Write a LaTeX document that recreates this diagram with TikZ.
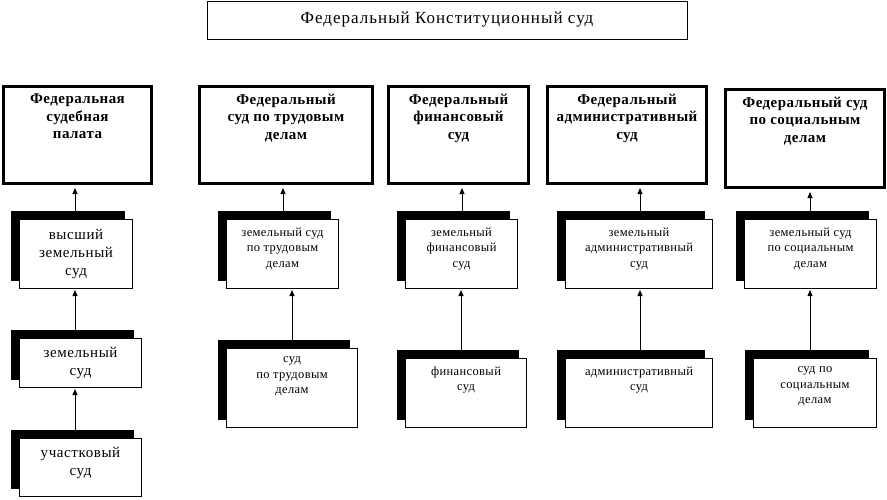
\documentclass[tikz,border=0pt]{standalone}
\usepackage{fontspec}
\setmainfont{Liberation Serif}
\newfontfamily\lsTitle[LetterSpace=6]{Liberation Serif}
\newfontfamily\lsFed[LetterSpace=3]{Liberation Serif}
\newfontfamily\lsBig[LetterSpace=4]{Liberation Serif}
\newfontfamily\lsSmall[LetterSpace=3]{Liberation Serif}
\usetikzlibrary{arrows.meta,calc}
\newcommand\mkbox[5]{%
  \node[shadowst, minimum width={#4-#2}, minimum height={#5-#3}] (s#1) at (#2-8,#3-8) {};
  \node[whitest, minimum width={#4-#2-0.8}, minimum height={#5-#3-0.8}] (w#1) at (#2,#3) {};
}
\begin{document}
\begin{tikzpicture}[x=1pt,y=-1pt,
  fed/.style={draw, line width=3pt, fill=white, inner sep=0pt, anchor=north west},
  titlebox/.style={draw, line width=0.8pt, inner sep=0pt, anchor=north west},
  shadowst/.style={fill=black, inner sep=0pt, outer sep=0pt, anchor=north west},
  whitest/.style={draw, fill=white, line width=0.8pt, inner sep=0pt, anchor=north west},
  fedtext/.style={inner sep=0pt, anchor=north, align=center, font=\lsFed\fontsize{15}{17.5}\selectfont\bfseries},
  bigtext/.style={inner sep=0pt, anchor=north, align=center, font=\lsBig\fontsize{15}{18}\selectfont},
  smalltext/.style={inner sep=0pt, anchor=north, align=center, font=\lsSmall\fontsize{12.5}{15.5}\selectfont},
  arr/.style={-{Triangle[length=6pt,width=5pt]}, line width=0.8pt}
]
\useasboundingbox[fill=white] (0,0) rectangle (887,499);

% title
\node[titlebox, minimum width=480, minimum height=38] (title) at (207,1) {};
\node[inner sep=0pt, font=\lsTitle\fontsize{17}{19}\selectfont] (titletext) at (447,20) {Федеральный Конституционный суд};

% federal courts
\node[fed, minimum width=148, minimum height=97] (f1) at (2,85) {};
\node[fed, minimum width=173, minimum height=97] (f2) at (198,85) {};
\node[fed, minimum width=140, minimum height=97] (f3) at (387,85) {};
\node[fed, minimum width=159, minimum height=97] (f4) at (546,85) {};
\node[fed, minimum width=159, minimum height=98] (f5) at (724,88) {};

\node[fedtext] (t1) at ($(f1.north)+(0,8.5)$) {Федеральная\\судебная\\палата};
\node[fedtext] (t2) at ($(f2.north)+(0,8.5)$) {Федеральный\\суд по трудовым\\делам};
\node[fedtext] (t3) at ($(f3.north)+(0,8.5)$) {Федеральный\\финансовый\\суд};
\node[fedtext] (t4) at ($(f4.north)+(0,8.5)$) {Федеральный\\административный\\суд};
\node[fedtext] (t5) at ($(f5.north)+(0,8.5)$) {Федеральный суд\\по социальным\\делам};

% lower courts
\mkbox{1a}{19}{219}{133}{289}
\mkbox{1b}{19}{338}{142}{388}
\mkbox{1c}{19}{438}{142}{497}
\mkbox{2a}{226}{219}{339}{289}
\mkbox{2b}{226}{348}{358}{428}
\mkbox{3a}{405}{219}{518}{289}
\mkbox{3b}{405}{358}{527}{428}
\mkbox{4a}{565}{219}{713}{289}
\mkbox{4b}{565}{358}{713}{428}
\mkbox{5a}{744}{219}{877}{289}
\mkbox{5b}{753}{358}{877}{428}

\node[bigtext] (u1a) at ($(w1a.north)+(0,10.5)$) {высший\\земельный\\суд};
\node[bigtext] (u1b) at ($(w1b.north)+(0,9.5)$) {земельный\\суд};
\node[bigtext] (u1c) at ($(w1c.north)+(0,9.5)$) {участковый\\суд};
\node[smalltext] (u2a) at ($(w2a.north)+(0,8.5)$) {земельный суд\\по трудовым\\делам};
\node[smalltext] (u2b) at ($(w2b.north)+(0,8.5)$) {суд\\по трудовым\\делам};
\node[smalltext] (u3a) at ($(w3a.north)+(0,8.5)$) {земельный\\финансовый\\суд};
\node[smalltext] (u3b) at ($(w3b.north)+(0,8.5)$) {финансовый\\суд};
\node[smalltext] (u4a) at ($(w4a.north)+(0,8.5)$) {земельный\\административный\\суд};
\node[smalltext] (u4b) at ($(w4b.north)+(0,8.5)$) {административный\\суд};
\node[smalltext] (u5a) at ($(w5a.north)+(0,8.5)$) {земельный суд\\по социальным\\делам};
\node[smalltext] (u5b) at ($(w5b.north)+(0,8.5)$) {суд по\\социальным\\делам};

% connector columns
\coordinate (x1) at (75,0);
\coordinate (x2t) at (283,0);
\coordinate (x2b) at (292,0);
\coordinate (x3t) at (462,0);
\coordinate (x3b) at (461,0);
\coordinate (x4) at (640,0);
\coordinate (x5) at (810,0);

% connectors to federal courts
\draw[arr] (s1a.north -| x1) -- ($(f1.south -| x1)+(0,3)$);
\draw[arr] (s2a.north -| x2t) -- ($(f2.south -| x2t)+(0,3)$);
\draw[arr] (s3a.north -| x3t) -- ($(f3.south -| x3t)+(0,3)$);
\draw[arr] (s4a.north -| x4) -- ($(f4.south -| x4)+(0,3)$);
\draw[arr] (s5a.north -| x5) -- ($(f5.south -| x5)+(0,3)$);

% connectors between lower courts
\draw[arr] (s1b.north -| x1) -- ($(w1a.south -| x1)+(0,1)$);
\draw[arr] (s1c.north -| x1) -- ($(w1b.south -| x1)+(0,1)$);
\draw[arr] (s2b.north -| x2b) -- ($(w2a.south -| x2b)+(0,1)$);
\draw[arr] (s3b.north -| x3b) -- ($(w3a.south -| x3b)+(0,1)$);
\draw[arr] (s4b.north -| x4) -- ($(w4a.south -| x4)+(0,1)$);
\draw[arr] (s5b.north -| x5) -- ($(w5a.south -| x5)+(0,1)$);
\end{tikzpicture}
\end{document}
